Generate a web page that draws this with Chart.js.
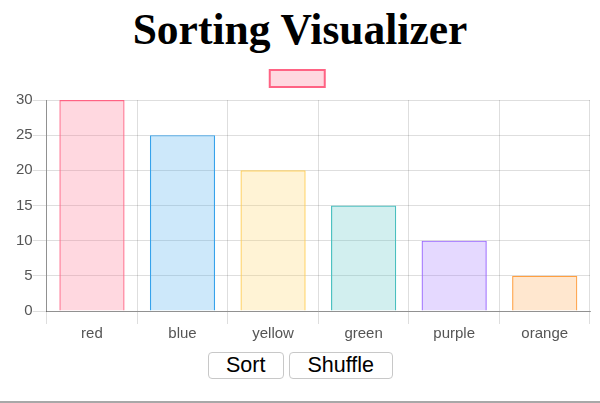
<!DOCTYPE html>
<html>
<head>
<meta charset="utf-8">
<script src="https://cdn.jsdelivr.net/npm/chart.js@4/dist/chart.umd.min.js"></script>
<style>
  html, body { margin: 0; padding: 0; background: #fff; }
  body { width: 600px; height: 403px; position: relative; overflow: hidden; }
  h1 { position: absolute; top: 1px; left: 0; width: 600px; margin: 0; text-align: center;
       font-family: "Liberation Serif", "Times New Roman", serif; font-weight: bold;
       font-size: 43.5px; line-height: 56px; color: #000; }
  #wrap { position: absolute; left: 0; top: 57px; width: 600px; height: 289px; }
  #btns { position: absolute; top: 352px; left: 0; width: 600px; text-align: center; font-size: 0; }
  button { font-family: "Liberation Sans", Helvetica, Arial, sans-serif; font-size: 21.5px;
           height: 27px; padding: 0 17.5px; margin: 0 2.5px; background: #fff; color: #000;
           border: 1px solid #c8c8c8; border-radius: 4px; line-height: 25px; vertical-align: top; }
  #bottom { position: absolute; left: 0; top: 401px; width: 600px; height: 2px; background: #a8a8a8; }
</style>
</head>
<body>
<h1>Sorting Visualizer</h1>
<div id="wrap"><canvas id="c"></canvas></div>
<div id="btns"><button>Sort</button><button>Shuffle</button></div>
<div id="bottom"></div>
<script>
const categories = ["red", "blue", "yellow", "green", "purple", "orange"];
const values = [30, 25, 20, 15, 10, 5];
const fillColors = ["rgba(255,99,132,0.25)", "rgba(54,162,235,0.25)", "rgba(255,206,86,0.25)",
                    "rgba(75,192,192,0.25)", "rgba(153,102,255,0.25)", "rgba(255,159,64,0.25)"];
const lineColors = ["rgba(255,99,132,1)", "rgba(54,162,235,1)", "rgba(255,206,86,1)",
                    "rgba(75,192,192,1)", "rgba(153,102,255,1)", "rgba(255,159,64,1)"];
const yTicks = [0, 5, 10, 15, 20, 25, 30];

const font = { family: "'Liberation Sans', Helvetica, Arial, sans-serif", size: 15 };
new Chart(document.getElementById("c"), {
  type: "bar",
  data: {
    labels: categories,
    datasets: [{ label: "", data: values, backgroundColor: fillColors, borderColor: lineColors, borderWidth: 1.2 }]
  },
  options: {
    responsive: true,
    maintainAspectRatio: false,
    animation: false,
    layout: { padding: { right: 10, left: 16, bottom: 2 } },
    plugins: {
      tooltip: { enabled: false },
      legend: {
        labels: {
          boxWidth: 55, boxHeight: 17, font: { family: font.family, size: 23 }, padding: 10,
          generateLabels: () => [{ text: "", fillStyle: fillColors[0], strokeStyle: lineColors[0], lineWidth: 2, hidden: false, datasetIndex: 0 }]
        }
      }
    },
    scales: {
      x: {
        ticks: { color: "#555", font: font, padding: 1 },
        grid: { color: "rgba(0,0,0,0.13)", tickLength: 13, offset: true },
        border: { color: "rgba(0,0,0,0.35)" }
      },
      y: {
        min: yTicks[0], max: yTicks[yTicks.length - 1],
        ticks: { stepSize: 5, color: "#555", font: font, padding: 0 },
        grid: { color: "rgba(0,0,0,0.13)", tickLength: 14 },
        border: { color: "rgba(0,0,0,0.35)" }
      }
    }
  }
});
</script>
</body>
</html>
